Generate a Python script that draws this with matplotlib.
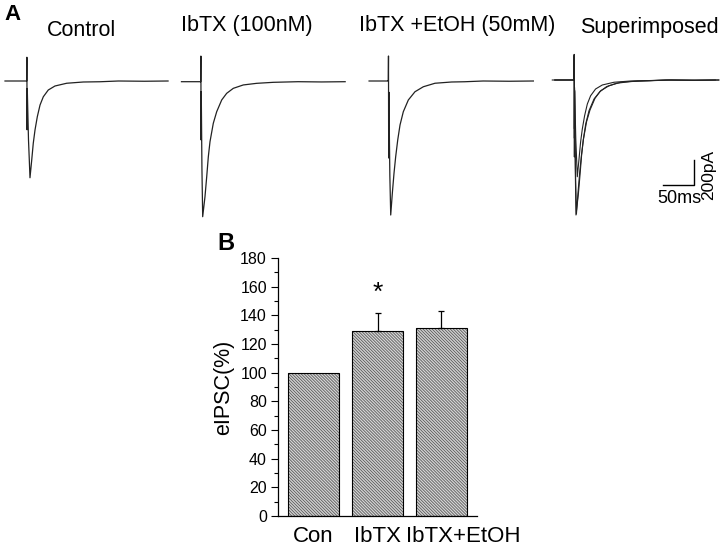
import numpy as np
import matplotlib
matplotlib.use("Agg")
import matplotlib.pyplot as plt

plt.rcParams['font.family'] = ['Liberation Sans', 'DejaVu Sans']
plt.rcParams['hatch.linewidth'] = 0.6

# --- panel A: traces (time in ms from stimulus, current in pA)
t_con = [-35, -0.5, 0, 0.3, 0.6, 0.9, 2.9, 4.2, 5.3, 8.1, 10.6, 13.4, 17.1, 21.5,
         26.8, 34.8, 45.6, 64.5, 91.3, 118, 148, 190, 228]
i_con = [0, 0, 0, 190, -390, -60, -472, -632, -774, -632, -498, -392, -286, -192,
         -126, -72, -40, -18, -8, -6, 0, -2, 0]

t_ibtx = [-31, -0.5, 0, 0.3, 0.6, 0.9, 2.0, 3.2, 6.9, 9.7, 12.3, 15.0, 20.3, 25.8,
          33.9, 41.9, 52.6, 68.7, 90.3, 117, 157, 195, 233]
i_ibtx = [0, 0, 0, 205, -466, -80, -700, -1080, -920, -760, -600, -480, -333, -240,
          -146, -93, -53, -26, -13, -5, 0, -2, 0]

t_etoh = [-31, -0.5, 0, 0.3, 0.6, 0.9, 2.5, 3.9, 6.5, 9.2, 11.9, 15.2, 18.9, 24.2,
          32.3, 43.0, 56.5, 75.3, 102, 123, 153, 195, 234]
i_etoh = [0, 0, 0, 200, -616, -90, -760, -1072, -898, -738, -606, -472, -352, -246,
          -152, -86, -46, -18, -8, -6, 0, -2, 0]

panel_titles = ["Control", "IbTX (100nM)", "IbTX +EtOH (50mM)", "Superimposed"]

# --- panel B: bar chart
groups = ["Con", "IbTX", "IbTX+EtOH"]
eipsc = [100, 129, 131]
eipsc_err = [0, 12.5, 12]
label_pos = [0, 1, 2.34]   # labels sit off-centre in the original

W, H = 720, 548
fig = plt.figure(figsize=(W / 100, H / 100), dpi=100)


def fx(px):
    return px / W


def fy(py):
    return 1 - py / H


ms_per_px = 1.613
pa_per_px = 8.0
t_lo, t_hi = -40, 240
i_lo, i_hi = -1250, 250


def trace_axes(art_px, base_px):
    left = art_px + t_lo / ms_per_px
    bottom = base_px - i_lo / pa_per_px
    w = (t_hi - t_lo) / ms_per_px
    h = (i_hi - i_lo) / pa_per_px
    ax = fig.add_axes([fx(left), fy(bottom), fx(w), h / H])
    ax.set_xlim(t_lo, t_hi)
    ax.set_ylim(i_lo, i_hi)
    ax.axis('off')
    return ax


traces = [(t_con, i_con), (t_ibtx, i_ibtx), (t_etoh, i_etoh)]
anchors = [(26.7, 81), (200.7, 81.7), (388.3, 81), (574, 80)]

for k, (t, i) in enumerate(traces):
    ax = trace_axes(*anchors[k])
    ax.plot(t, i, color='#222222', lw=0.9)

ax_sup = trace_axes(*anchors[3])
for t, i in traces:
    ax_sup.plot(t, i, color='#222222', lw=0.8, clip_on=False)

# scale bar 50 ms / 200 pA
sb_t, sb_i = 144, -840
ax_sup.plot([sb_t, sb_t + 50, sb_t + 50], [sb_i, sb_i, sb_i + 200],
            color='black', lw=1.0, clip_on=False)
fig.text(fx(679), fy(198), "50ms", fontsize=13, ha='center', va='center')
fig.text(fx(708.5), fy(175), "200pA", fontsize=12.5, ha='center', va='center',
         rotation=90)

title_pos = [(82, 31), (247, 26), (457, 26), (649, 27)]
for title, (x, y) in zip(panel_titles, title_pos):
    fig.text(fx(x), fy(y), title, fontsize=15.5, ha='center', va='center')

fig.text(fx(13), fy(15), "A", fontsize=16, fontweight='bold', ha='center', va='center')
fig.text(fx(226), fy(244), "B", fontsize=17, fontweight='bold', ha='center', va='center')

# bar axes
axb = fig.add_axes([fx(278), fy(516), fx(477 - 278), (516 - 258) / H])
xpos = np.arange(len(groups))
axb.bar(xpos, eipsc, width=0.8, color='#d4d4d4', edgecolor='#5a5a5a',
        hatch='\\' * 11, linewidth=0)
axb.bar(xpos, eipsc, width=0.8, fill=False, edgecolor='black', linewidth=0.8)
axb.errorbar(xpos[1:], eipsc[1:], yerr=[[0, 0], eipsc_err[1:]], fmt='none',
             ecolor='black', elinewidth=0.9, capsize=2.5, capthick=0.9)
axb.text(1, 156, "*", fontsize=19, ha='center', va='center')

axb.set_xlim(-0.555, 2.555)
axb.set_ylim(0, 180)
axb.set_yticks(np.arange(0, 181, 20))
axb.set_yticks(np.arange(0, 181, 10), minor=True)
axb.set_xticks(label_pos)
axb.set_xticklabels(groups, fontsize=16)
axb.tick_params(axis='x', length=0, pad=7)
axb.tick_params(axis='y', which='major', length=5, width=0.8, labelsize=11.5, pad=3)
axb.tick_params(axis='y', which='minor', length=3, width=0.8)
for s in ['top', 'right']:
    axb.spines[s].set_visible(False)
for s in ['left', 'bottom']:
    axb.spines[s].set_linewidth(0.9)
axb.set_ylabel("eIPSC(%)", fontsize=15.5, labelpad=4)

fig.savefig("out.png", dpi=100)
